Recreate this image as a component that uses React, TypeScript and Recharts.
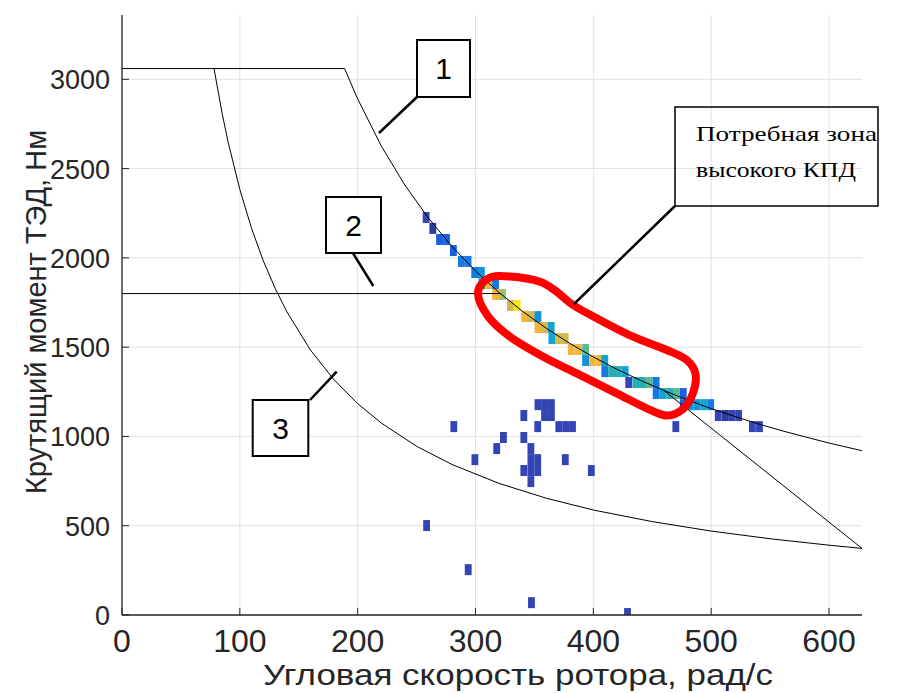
import React from "react";
import { ComposedChart, Line, XAxis, YAxis, CartesianGrid, ReferenceArea } from "recharts";

const W = 908;
const H = 693;

const xTicks = [0, 100, 200, 300, 400, 500, 600];
const yTicks = [0, 500, 1000, 1500, 2000, 2500, 3000];

// максимальный момент (горизонтальный участок)
const topLine = [
  { w: 0, t: 3060 },
  { w: 188.9, t: 3060 },
];

// кривая 1 — граница постоянной мощности
const curve1 = [
  { w: 188.9, t: 3060 }, { w: 200, t: 2890 }, { w: 220, t: 2627 }, { w: 240, t: 2408 },
  { w: 260, t: 2223 }, { w: 280, t: 2064 }, { w: 300, t: 1927 }, { w: 320, t: 1806 },
  { w: 340, t: 1700 }, { w: 360, t: 1606 }, { w: 380, t: 1521 }, { w: 400, t: 1445 },
  { w: 420, t: 1376 }, { w: 440, t: 1314 }, { w: 460, t: 1257 }, { w: 480, t: 1204 },
  { w: 500, t: 1156 }, { w: 520, t: 1112 }, { w: 540, t: 1070 }, { w: 560, t: 1032 },
  { w: 580, t: 997 }, { w: 600, t: 963 }, { w: 628, t: 920 },
];

// кривая 2 — горизонталь
const curve2 = [
  { w: 0, t: 1800 },
  { w: 321, t: 1800 },
];

// кривая 3
const curve3 = [
  { w: 78.1, t: 3060 }, { w: 85, t: 2808 }, { w: 90, t: 2650 }, { w: 100, t: 2383 },
  { w: 110, t: 2164 }, { w: 120, t: 1982 }, { w: 130, t: 1829 }, { w: 140, t: 1697 },
  { w: 160, t: 1483 }, { w: 180, t: 1317 }, { w: 200, t: 1184 }, { w: 220, t: 1075 },
  { w: 250, t: 945 }, { w: 280, t: 843 }, { w: 320, t: 737 }, { w: 360, t: 654 },
  { w: 400, t: 588 }, { w: 450, t: 523 }, { w: 500, t: 470 }, { w: 550, t: 427 },
  { w: 600, t: 391 }, { w: 628, t: 373 },
];

// прямая от кривой 1 к правому краю
const cutLine = [
  { w: 460, t: 1257 },
  { w: 628, t: 373 },
];

// ячейки [скорость, момент, уровень]
const bandCells: [number, number, number][] = [
  [258.1, 2226, 1], [263.8, 2165, 0],
  [269.5, 2103, 2], [275.4, 2103, 2],
  [281.2, 2041, 2],
  [288.0, 1980, 3], [293.7, 1980, 3],
  [299.3, 1918, 3], [305.0, 1918, 4],
  [305.4, 1856, 5], [311.1, 1856, 10], [317.0, 1856, 3],
  [317.0, 1795, 10], [323.0, 1795, 8],
  [329.6, 1733, 9], [335.4, 1733, 11],
  [341.7, 1671, 10], [347.4, 1671, 9], [353.0, 1671, 4],
  [353.0, 1610, 10], [358.5, 1610, 9], [364.2, 1610, 5],
  [364.8, 1548, 5], [370.4, 1548, 9], [376.1, 1548, 9],
  [381.3, 1487, 10], [387.4, 1487, 10], [393.4, 1487, 7],
  [393.4, 1425, 4], [399.3, 1425, 10], [405.3, 1425, 10], [409.7, 1425, 5],
  [409.7, 1363, 3], [415.5, 1363, 6], [421.2, 1363, 6], [427.0, 1363, 5],
  [430.0, 1302, 1], [436.0, 1302, 6], [441.7, 1302, 6], [447.5, 1302, 7], [453.3, 1302, 3],
  [453.3, 1240, 3], [459.0, 1240, 5], [464.8, 1240, 6], [470.5, 1240, 7], [476.3, 1240, 2],
  [476.3, 1178, 2], [482.0, 1178, 4], [487.8, 1178, 4], [493.6, 1178, 5], [499.6, 1178, 3],
  [506.0, 1117, 1], [512.0, 1117, 0], [517.5, 1117, 1], [523.3, 1117, 1],
  [535.0, 1055, 1], [541.0, 1055, 1],
];

const scatterCells: [number, number, number][] = [
  [258.5, 501, 1], [281.6, 1055, 1], [293.8, 254, 1], [299.5, 870, 1],
  [318.0, 932, 1], [323.7, 994, 1], [341.0, 1117, 1], [341.0, 994, 1],
  [347.0, 932, 1], [347.0, 870, 1], [352.8, 870, 1], [341.0, 809, 1],
  [347.0, 809, 1], [352.8, 809, 1], [347.0, 747, 1], [347.5, 69, 1],
  [352.8, 1055, 1], [353.0, 1178, 1], [358.6, 1178, 1], [364.4, 1178, 1],
  [358.6, 1117, 1], [364.4, 1117, 1], [370.7, 1055, 1], [376.5, 1055, 1],
  [382.3, 1055, 1], [376.2, 870, 1], [398.3, 809, 1], [429.0, 8, 1],
  [470.0, 1055, 1],
];

const palette = [
  "#2b3a9f", "#3444b4", "#1a5fe0", "#1479e0", "#1193dc", "#13a4d2",
  "#26afb4", "#5bba95", "#a6be66", "#d4b852", "#f1b63c", "#f7e51e",
];

const CELL_W = 5.8;
const CELL_H = 61.6;

const ink = "#262626";
const sans = "'Liberation Sans', Arial, sans-serif";

const XTick = (props: any) => {
  const { x, y, payload } = props;
  return (
    <g>
      <line x1={x} x2={x} y1={y} y2={y - 7} stroke={ink} strokeWidth={1} />
      <text x={x} y={y + 37} textAnchor="middle" fontSize={32} fontFamily={sans} fill={ink}>
        {payload.value}
      </text>
    </g>
  );
};

const YTick = (props: any) => {
  const { x, y, payload } = props;
  return (
    <g>
      <line x1={x} x2={x + 7} y1={y} y2={y} stroke={ink} strokeWidth={1} />
      <text x={x - 12} y={y + 10} textAnchor="end" fontSize={27} fontFamily={sans} fill={ink}>
        {payload.value}
      </text>
    </g>
  );
};

// сглаженный замкнутый контур (Catmull-Rom)
const smoothClosed = (pts: number[][]) => {
  const n = pts.length;
  let d = `M${pts[0][0]},${pts[0][1]}`;
  for (let i = 0; i < n; i++) {
    const p0 = pts[(i - 1 + n) % n];
    const p1 = pts[i];
    const p2 = pts[(i + 1) % n];
    const p3 = pts[(i + 2) % n];
    const c1 = [p1[0] + (p2[0] - p0[0]) / 6, p1[1] + (p2[1] - p0[1]) / 6];
    const c2 = [p2[0] - (p3[0] - p1[0]) / 6, p2[1] - (p3[1] - p1[1]) / 6];
    d += ` C${c1[0]},${c1[1]} ${c2[0]},${c2[1]} ${p2[0]},${p2[1]}`;
  }
  return d + " Z";
};

const zonePts = [
  [478, 293], [489, 278], [510, 276.5], [540, 281.7], [557, 292], [573, 305],
  [600, 320], [633, 336.7], [666.7, 350], [686.7, 360], [695.5, 374], [693, 393],
  [683, 409], [666.7, 415.5], [646.7, 408.3], [616.7, 393.3], [583.3, 376.7],
  [543.3, 356.7], [510, 336.7], [488.3, 316.7],
];

const Cell = (c: [number, number, number], key: string) => (
  <ReferenceArea
    key={key}
    x1={c[0] - CELL_W / 2}
    x2={c[0] + CELL_W / 2}
    y1={c[1] - CELL_H / 2}
    y2={c[1] + CELL_H / 2}
    fill={palette[c[2]]}
    fillOpacity={1}
    stroke="none"
    ifOverflow="hidden"
  />
);

const lineProps = {
  dataKey: "t",
  stroke: "#000",
  strokeWidth: 1,
  dot: false,
  activeDot: false,
  isAnimationActive: false,
  type: "linear" as const,
};

export default function App() {
  return (
    <div style={{ position: "absolute", left: 0, top: 0, width: W, height: H, background: "#fff" }}>
      <ComposedChart width={W} height={H} margin={{ top: 15, right: 46, bottom: 0, left: 0 }}>
        <CartesianGrid stroke="#e1e1e1" strokeWidth={1} horizontalValues={yTicks} verticalValues={xTicks} />
        <XAxis
          type="number"
          dataKey="w"
          domain={[0, 628]}
          ticks={xTicks}
          allowDataOverflow
          height={78}
          tickSize={0}
          tickMargin={0}
          tickLine={false}
          axisLine={{ stroke: ink, strokeWidth: 1.3 }}
          tick={(p: any) => <XTick {...p} />}
        />
        <YAxis
          type="number"
          dataKey="t"
          domain={[0, 3360]}
          ticks={yTicks}
          allowDataOverflow
          width={122}
          tickSize={0}
          tickMargin={0}
          tickLine={false}
          axisLine={{ stroke: ink, strokeWidth: 1.3 }}
          tick={(p: any) => <YTick {...p} />}
        />
        {scatterCells.map((c, i) => Cell(c, `s${i}`))}
        {bandCells.map((c, i) => Cell(c, `b${i}`))}
        <Line data={topLine} {...lineProps} />
        <Line data={curve1} {...lineProps} />
        <Line data={curve2} {...lineProps} />
        <Line data={curve3} {...lineProps} />
        <Line data={cutLine} {...lineProps} />
      </ComposedChart>
      <svg
        width={W}
        height={H}
        style={{ position: "absolute", left: 0, top: 0, pointerEvents: "none" }}
      >
        <text
          x={46}
          y={312}
          transform="rotate(-90 46 312)"
          textAnchor="middle"
          fontSize={29}
          fontFamily={sans}
          fill={ink}
        >
          Крутящий момент ТЭД, Нм
        </text>
        <text
          x={518}
          y={685}
          textAnchor="middle"
          fontSize={30}
          fontFamily={sans}
          fill={ink}
          textLength={510}
          lengthAdjust="spacingAndGlyphs"
        >
          Угловая скорость ротора, рад/с
        </text>

        <path d={smoothClosed(zonePts)} fill="none" stroke="#ff0000" strokeWidth={8} />

        <g stroke="#000" strokeWidth={2.5}>
          <line x1={379} y1={133} x2={417} y2={97} />
          <line x1={352.7} y1={252.7} x2={373.3} y2={286} />
          <line x1={310} y1={400} x2={336.7} y2={371.7} />
          <line x1={675} y1={206} x2={574} y2={304} />
        </g>

        <g fill="#fff" stroke="#000" strokeWidth={2}>
          <rect x={417} y={40} width={53} height={57} />
          <rect x={326} y={197} width={55} height={56} />
          <rect x={252.7} y={400} width={55.6} height={56} />
        </g>
        <g fontFamily={sans} fontSize={30} fill="#000" textAnchor="middle">
          <text x={443.5} y={79}>1</text>
          <text x={353.5} y={236}>2</text>
          <text x={280.5} y={439}>3</text>
        </g>

        <rect x={675} y={107} width={203} height={99} fill="none" stroke="#000" strokeWidth={1.5} />
        <g fontFamily="'Liberation Serif', 'Times New Roman', serif" fontSize={22} fill="#000">
          <text x={696} y={141} textLength={181} lengthAdjust="spacingAndGlyphs">
            Потребная зона
          </text>
          <text x={696} y={177} textLength={160} lengthAdjust="spacingAndGlyphs">
            высокого КПД
          </text>
        </g>
      </svg>
    </div>
  );
}
